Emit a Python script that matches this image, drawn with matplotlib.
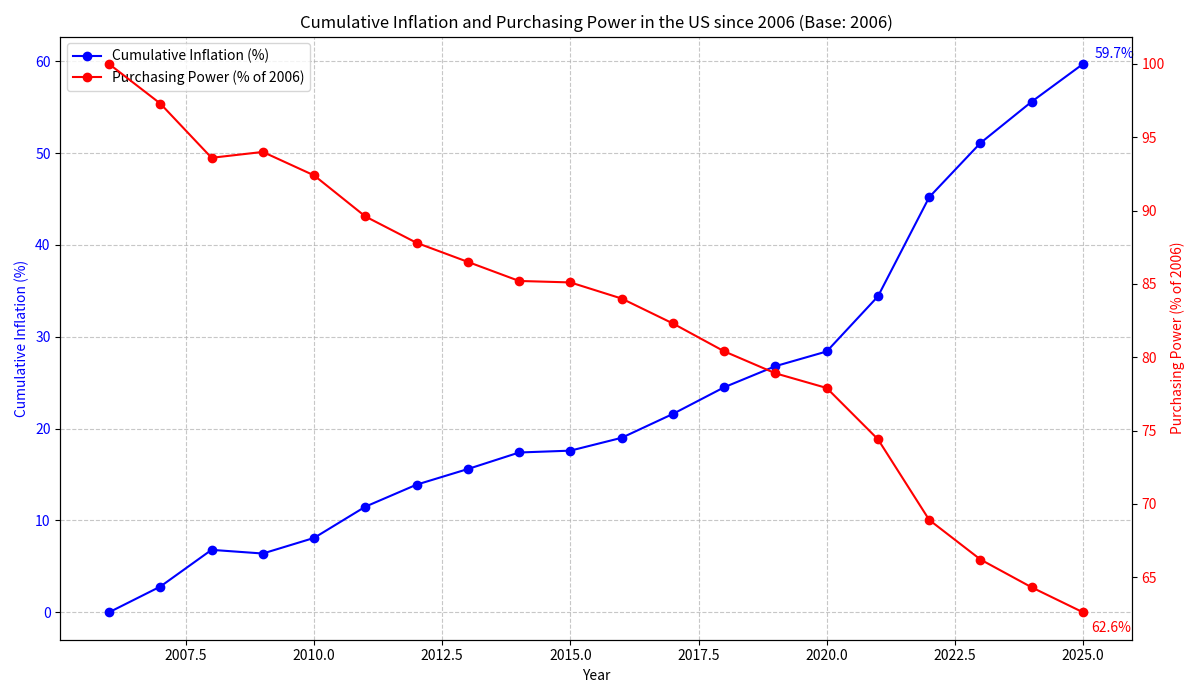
import matplotlib
matplotlib.use('Agg')
import matplotlib.pyplot as plt

plt.rcParams['font.family'] = ['Noto Sans CJK SC', 'DejaVu Sans']

years = list(range(2006, 2026))
inflation = [0, 2.8, 6.8, 6.4, 8.1, 11.5, 13.9, 15.6, 17.4, 17.6,
             19.0, 21.6, 24.5, 26.8, 28.4, 34.4, 45.2, 51.1, 55.6, 59.7]
power = [100, 97.3, 93.6, 94.0, 92.4, 89.6, 87.8, 86.5, 85.2, 85.1,
         84.0, 82.3, 80.4, 78.9, 77.9, 74.4, 68.9, 66.2, 64.3, 62.6]

fig, ax1 = plt.subplots(figsize=(12, 6.98), dpi=100)
l1, = ax1.plot(years, inflation, 'o-', color='blue', label='Cumulative Inflation (%)')
ax1.set_xlabel('Year')
ax1.set_ylabel('Cumulative Inflation (%)', color='blue')
ax1.tick_params(axis='y', labelcolor='blue')
ax1.grid(True, linestyle='--', alpha=0.7)
ax1.annotate(f'{inflation[-1]}%', (years[-1], inflation[-1]), xytext=(8, 4),
             textcoords='offset points', color='blue')

ax2 = ax1.twinx()
l2, = ax2.plot(years, power, 'o-', color='red', label='Purchasing Power (% of 2006)')
ax2.set_ylabel('Purchasing Power (% of 2006)', color='red')
ax2.tick_params(axis='y', labelcolor='red')
ax2.annotate(f'{power[-1]}%', (years[-1], power[-1]), xytext=(6, -14),
             textcoords='offset points', color='red')

ax1.legend([l1, l2], [l1.get_label(), l2.get_label()], loc='upper left')
plt.title('Cumulative Inflation and Purchasing Power in the US since 2006 (Base: 2006)')
fig.tight_layout()
fig.savefig('out.png')
